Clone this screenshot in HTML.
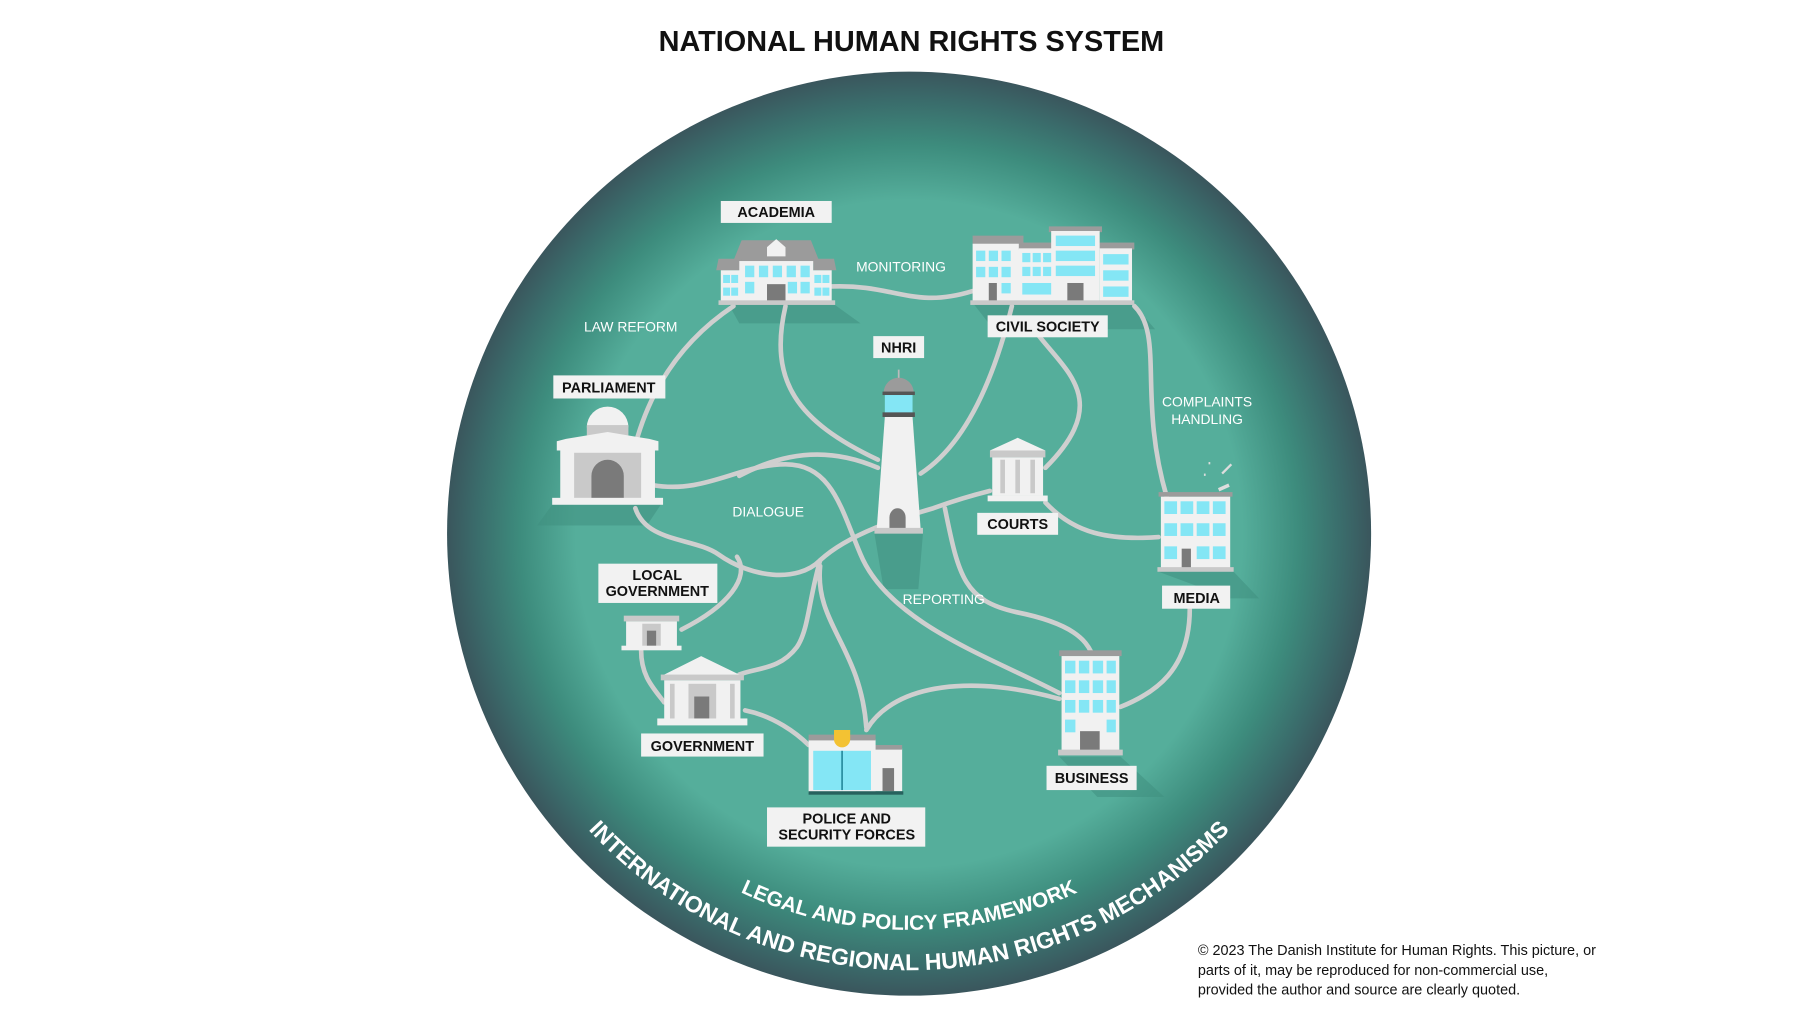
<!DOCTYPE html>
<html><head><meta charset="utf-8"><style>
html,body{margin:0;padding:0;background:#fff;width:1802px;height:1013px;overflow:hidden}
svg{display:block}
.lb{font-family:"Liberation Sans",sans-serif;font-weight:bold;font-size:12.5px;fill:#111;text-anchor:middle}
.wt{font-family:"Liberation Sans",sans-serif;font-size:12px;fill:#fff;text-anchor:middle}
.ln{fill:none;stroke:#cfcfcf;stroke-width:4;stroke-linecap:round}
.box{fill:#f2f2f2}
.w{fill:#84e6f5}
.g1{fill:#f1f1f1}.g2{fill:#c9c9c9}.g3{fill:#9b9b9b}.g4{fill:#7a7a7a}
.sh{fill:#3f8f80;opacity:.55}
</style></head><body>
<svg width="1802" height="1013" viewBox="0 0 1560 877" xmlns="http://www.w3.org/2000/svg">
<defs>
<radialGradient id="rg" cx="787" cy="462" r="401" gradientUnits="userSpaceOnUse">
<stop offset="0" stop-color="#55ae9b"/>
<stop offset="0.72" stop-color="#55ae9b"/>
<stop offset="0.84" stop-color="#3d8c7d"/>
<stop offset="0.94" stop-color="#3a6a6a"/>
<stop offset="1" stop-color="#3a555c"/>
</radialGradient>
<path id="a1" d="M444,462 A343,343 0 0 0 1130,462"/>
<path id="a2" d="M409,462 A378,378 0 0 0 1165,462"/>
</defs>
<rect width="1560" height="877" fill="#fff"/>
<text x="789" y="44" font-family="Liberation Sans,sans-serif" font-weight="bold" font-size="25" text-anchor="middle" fill="#111">NATIONAL HUMAN RIGHTS SYSTEM</text>
<circle cx="787" cy="462" r="400" fill="url(#rg)"/>

<polygon class="sh" points="630,262 720,262 745,280 640,280"/>
<polygon class="sh" points="842,262 980,262 1000,285 860,285"/>
<polygon class="sh" points="478,437 572,437 560,455 465,455"/>
<polygon class="sh" points="1003,495 1068,495 1090,518 1065,518"/>
<polygon class="sh" points="917,655 970,655 1008,690 950,690"/>
<polygon class="sh" points="757,462 799,462 795,510 765,510"/>

<g class="ln">
<path d="M720,248 C775,246 790,268 842,252"/>
<path d="M635,265 C590,295 565,335 552,378"/>
<path d="M680,265 C665,330 690,365 760,398"/>
<path d="M876,265 C860,330 835,385 797,410"/>
<path d="M895,285 C920,320 965,345 905,405"/>
<path d="M982,265 C1008,290 985,345 1010,430"/>
<path d="M565,420 C610,428 640,402 680,402 C720,402 728,440 745,480 C770,540 860,570 917,600"/>
<path d="M640,412 C690,385 730,392 760,405"/>
<path d="M550,440 C560,470 600,465 622,480 C650,500 690,505 710,485 C735,462 780,448 808,440 C830,432 845,428 857,425"/>
<path d="M710,485 C700,520 700,545 690,560 C675,580 655,578 640,584"/>
<path d="M710,490 C705,540 745,560 750,630"/>
<path d="M590,545 C630,525 650,500 638,482"/>
<path d="M555,563 C555,585 565,595 575,608"/>
<path d="M645,615 C670,620 690,635 700,645"/>
<path d="M750,632 C775,590 845,585 917,605"/>
<path d="M818,440 C830,500 835,520 880,530 C930,540 940,555 945,565"/>
<path d="M905,435 C930,462 960,468 1003,465"/>
<path d="M1030,527 C1030,580 1000,600 970,612"/>
</g>

<!-- Academia -->
<g>
<polygon class="g3" points="642,208 702,208 710,228 634,228"/>
<polygon class="g3" points="622,224 642,224 642,234 620,234"/>
<polygon class="g3" points="704,224 722,224 724,234 704,234"/>
<rect class="g1" x="640" y="226" width="64" height="36"/>
<rect class="g1" x="624" y="234" width="17" height="28"/><rect class="g1" x="703" y="234" width="17" height="28"/>
<polygon class="g1" points="664,222 664,214 672,207 680,214 680,222"/>
<rect class="w" x="645" y="230" width="8" height="10"/><rect class="w" x="657" y="230" width="8" height="10"/><rect class="w" x="669" y="230" width="8" height="10"/><rect class="w" x="681" y="230" width="8" height="10"/><rect class="w" x="693" y="230" width="8" height="10"/>
<rect class="w" x="645" y="244" width="8" height="10"/><rect class="w" x="693" y="244" width="8" height="10"/><rect class="w" x="682" y="244" width="8" height="10"/>
<rect class="w" x="626" y="238" width="6" height="7"/><rect class="w" x="633" y="238" width="6" height="7"/><rect class="w" x="626" y="249" width="6" height="7"/><rect class="w" x="633" y="249" width="6" height="7"/>
<rect class="w" x="705" y="238" width="6" height="7"/><rect class="w" x="712" y="238" width="6" height="7"/><rect class="w" x="705" y="249" width="6" height="7"/><rect class="w" x="712" y="249" width="6" height="7"/>
<rect class="g4" x="664" y="246" width="16" height="16"/>
<rect class="g2" x="622" y="260" width="101" height="4"/>
</g>
<!-- Civil society -->
<g>
<rect class="g3" x="842" y="204" width="44" height="8"/>
<rect class="g1" x="842" y="211" width="44" height="51"/>
<rect class="g3" x="882" y="210" width="100" height="6"/>
<rect class="g1" x="882" y="215" width="30" height="47"/>
<rect class="g1" x="952" y="215" width="28" height="47"/>
<rect class="g3" x="908" y="196" width="46" height="5"/>
<rect class="g1" x="910" y="200" width="42" height="62"/>
<g class="w">
<rect x="845" y="217" width="8" height="9"/><rect x="856" y="217" width="8" height="9"/><rect x="867" y="217" width="8" height="9"/>
<rect x="845" y="231" width="8" height="9"/><rect x="856" y="231" width="8" height="9"/><rect x="867" y="231" width="8" height="9"/>
<rect x="867" y="245" width="8" height="9"/>
<rect x="885" y="219" width="7" height="8"/><rect x="894" y="219" width="7" height="8"/><rect x="903" y="219" width="7" height="8"/>
<rect x="885" y="231" width="7" height="8"/><rect x="894" y="231" width="7" height="8"/><rect x="903" y="231" width="7" height="8"/>
<rect x="885" y="245" width="25" height="10"/>
<rect x="914" y="204" width="34" height="9"/><rect x="914" y="217" width="34" height="9"/><rect x="914" y="230" width="34" height="9"/>
<rect x="955" y="220" width="22" height="9"/><rect x="955" y="234" width="22" height="9"/><rect x="955" y="248" width="22" height="9"/>
</g>
<rect class="g4" x="856" y="245" width="7" height="17"/>
<rect class="g4" x="924" y="245" width="14" height="17"/>
<rect class="g2" x="840" y="260" width="142" height="4"/>
</g>
<!-- Parliament -->
<g>
<path class="g1" d="M508,370 A18,18 0 0 1 544,370 Z"/>
<rect class="g2" x="508" y="368" width="36" height="9"/>
<polygon class="g1" points="490,380 526,374 562,380 570,382 570,390 482,390 482,382"/>
<rect class="g1" x="485" y="390" width="82" height="42"/>
<rect class="g2" x="497" y="392" width="58" height="40"/>
<path class="g4" d="M512,432 V412 A14,14 0 0 1 540,412 V432 Z"/>
<rect class="g1" x="478" y="431" width="96" height="6"/>
</g>
<!-- Lighthouse -->
<g>
<line x1="778" y1="320" x2="778" y2="328" stroke="#bbb" stroke-width="1.5"/>
<path class="g3" d="M765,340 A13,13 0 0 1 791,340 Z"/>
<rect x="764" y="339" width="28" height="3" fill="#555"/>
<rect class="w" x="766" y="342" width="24" height="16"/>
<rect x="764" y="357" width="28" height="4" fill="#555"/>
<polygon class="g1" points="766,361 790,361 797,458 759,458"/>
<path class="g4" d="M770,458 V448 A7,8 0 0 1 784,448 V458 Z"/>
<rect class="g2" x="757" y="457" width="42" height="5"/>
</g>
<!-- Courts -->
<g>
<polygon class="g1" points="857,390 881,379 905,390"/>
<rect class="g2" x="857" y="390" width="48" height="6"/>
<rect class="g1" x="859" y="396" width="44" height="33"/>
<rect class="g2" x="866" y="398" width="4" height="29"/><rect class="g2" x="879" y="398" width="4" height="29"/><rect class="g2" x="892" y="398" width="4" height="29"/>
<rect class="g1" x="855" y="429" width="52" height="5"/>
</g>
<!-- Media -->
<g>
<line x1="1047" y1="400" x2="1047" y2="402" stroke="#ddd" stroke-width="1.5"/>
<line x1="1043" y1="410" x2="1043" y2="412" stroke="#ddd" stroke-width="1.5"/>
<path d="M1058,410 L1066,402" stroke="#ddd" stroke-width="2"/>
<path d="M1055,424 L1064,420" stroke="#ddd" stroke-width="3"/>
<rect class="g3" x="1003" y="426" width="64" height="4"/>
<rect class="g1" x="1005" y="430" width="60" height="62"/>
<g class="w">
<rect x="1008" y="434" width="11" height="11"/><rect x="1022" y="434" width="11" height="11"/><rect x="1036" y="434" width="11" height="11"/><rect x="1050" y="434" width="11" height="11"/>
<rect x="1008" y="453" width="11" height="11"/><rect x="1022" y="453" width="11" height="11"/><rect x="1036" y="453" width="11" height="11"/><rect x="1050" y="453" width="11" height="11"/>
<rect x="1008" y="473" width="11" height="11"/><rect x="1036" y="473" width="11" height="11"/><rect x="1050" y="473" width="11" height="11"/>
</g>
<rect class="g4" x="1023" y="475" width="8" height="17"/>
<rect class="g2" x="1002" y="491" width="66" height="4"/>
</g>
<!-- Local government -->
<g>
<rect class="g2" x="540" y="533" width="48" height="5"/>
<rect class="g1" x="542" y="538" width="44" height="22"/>
<rect class="g2" x="556" y="540" width="16" height="20"/>
<rect class="g4" x="560" y="546" width="8" height="14"/>
<rect class="g1" x="538" y="559" width="52" height="4"/>
</g>
<!-- Government -->
<g>
<polygon class="g1" points="573,585 607,568 642,585"/>
<rect class="g2" x="572" y="584" width="72" height="5"/>
<rect class="g1" x="575" y="589" width="66" height="34"/>
<rect class="g2" x="596" y="592" width="24" height="31"/>
<rect class="g4" x="601" y="603" width="13" height="20"/>
<rect class="g2" x="580" y="592" width="4" height="31"/><rect class="g2" x="632" y="592" width="4" height="31"/>
<rect class="g1" x="569" y="622" width="78" height="6"/>
</g>
<!-- Business -->
<g>
<rect class="g3" x="917" y="563" width="54" height="5"/>
<rect class="g1" x="919" y="568" width="50" height="82"/>
<g class="w">
<rect x="922" y="572" width="9" height="11"/><rect x="934" y="572" width="9" height="11"/><rect x="946" y="572" width="9" height="11"/><rect x="958" y="572" width="8" height="11"/>
<rect x="922" y="589" width="9" height="11"/><rect x="934" y="589" width="9" height="11"/><rect x="946" y="589" width="9" height="11"/><rect x="958" y="589" width="8" height="11"/>
<rect x="922" y="606" width="9" height="11"/><rect x="934" y="606" width="9" height="11"/><rect x="946" y="606" width="9" height="11"/><rect x="958" y="606" width="8" height="11"/>
<rect x="922" y="623" width="9" height="11"/><rect x="958" y="623" width="8" height="11"/>
</g>
<rect class="g4" x="935" y="633" width="17" height="17"/>
<rect class="g2" x="916" y="649" width="56" height="5"/>
</g>
<!-- Police -->
<g>
<rect class="g1" x="757" y="648" width="24" height="37"/>
<rect class="g3" x="757" y="645" width="24" height="4"/>
<rect class="g4" x="764" y="665" width="10" height="20"/>
<rect class="g1" x="700" y="640" width="58" height="46"/>
<rect class="g3" x="700" y="636" width="58" height="5"/>
<rect class="w" x="704" y="650" width="50" height="34"/>
<line x1="729" y1="650" x2="729" y2="684" stroke="#2a8fa0" stroke-width="1.5"/>
<path d="M722,632 h14 v8 a7,7 0 0 1 -14,0 z" fill="#f3c233"/>
<rect x="700" y="685" width="82" height="3" fill="#27625e"/>
</g>

<rect class="box" x="624" y="174" width="96" height="19"/><text class="lb" x="672" y="188">ACADEMIA</text>
<rect class="box" x="855" y="273" width="104" height="19"/><text class="lb" x="907" y="287">CIVIL SOCIETY</text>
<rect class="box" x="756" y="291" width="44" height="19"/><text class="lb" x="778" y="305">NHRI</text>
<rect class="box" x="479" y="325" width="97" height="20"/><text class="lb" x="527" y="340">PARLIAMENT</text>
<rect class="box" x="846" y="444" width="70" height="19"/><text class="lb" x="881" y="458">COURTS</text>
<rect class="box" x="1006" y="507" width="59" height="20"/><text class="lb" x="1036" y="522">MEDIA</text>
<rect class="box" x="518" y="488" width="103" height="34"/><text class="lb" x="569" y="502">LOCAL</text><text class="lb" x="569" y="516">GOVERNMENT</text>
<rect class="box" x="555" y="635" width="106" height="20"/><text class="lb" x="608" y="650">GOVERNMENT</text>
<rect class="box" x="906" y="663" width="78" height="21"/><text class="lb" x="945" y="678">BUSINESS</text>
<rect class="box" x="664" y="699" width="137" height="34"/><text class="lb" x="733" y="713">POLICE AND</text><text class="lb" x="733" y="727">SECURITY FORCES</text>

<text class="wt" x="780" y="235">MONITORING</text>
<text class="wt" x="546" y="287">LAW REFORM</text>
<text class="wt" x="1045" y="352">COMPLAINTS</text><text class="wt" x="1045" y="367">HANDLING</text>
<text class="wt" x="665" y="447">DIALOGUE</text>
<text class="wt" x="817" y="523">REPORTING</text>

<text font-family="Liberation Sans,sans-serif" font-weight="bold" font-size="18" fill="#fff"><textPath href="#a1" startOffset="50%" text-anchor="middle">LEGAL AND POLICY FRAMEWORK</textPath></text>
<text font-family="Liberation Sans,sans-serif" font-weight="bold" font-size="20" fill="#fff"><textPath href="#a2" startOffset="50%" text-anchor="middle">INTERNATIONAL AND REGIONAL HUMAN RIGHTS MECHANISMS</textPath></text>

<g font-family="Liberation Sans,sans-serif" font-size="12.5" fill="#111">
<text x="1037" y="827">© 2023 The Danish Institute for Human Rights. This picture, or</text>
<text x="1037" y="844">parts of it, may be reproduced for non-commercial use,</text>
<text x="1037" y="861">provided the author and source are clearly quoted.</text>
</g>
</svg>
</body></html>
